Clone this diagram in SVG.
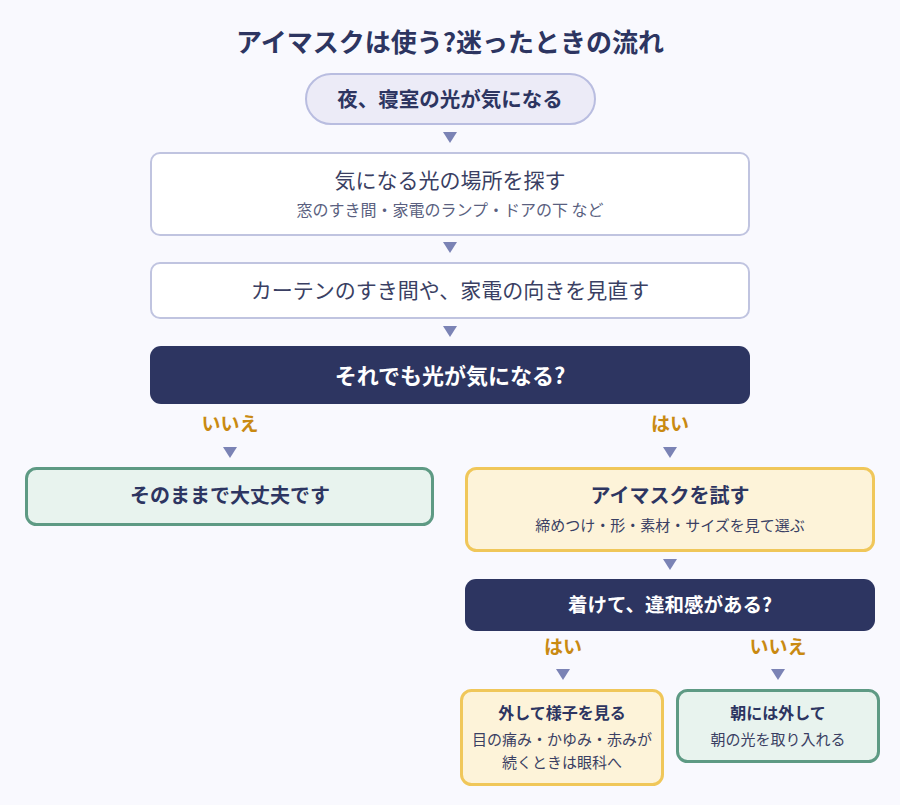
<svg xmlns="http://www.w3.org/2000/svg" width="900" height="805" viewBox="0 0 900 805">
<defs>
<style>
text{font-family:"Noto Sans CJK JP","Noto Sans",sans-serif;text-anchor:middle;dominant-baseline:central}
.t{font-size:26px;font-weight:700;fill:#2d3561}
.b{fill:#2d3561;font-weight:700}
.r{fill:#3a3f63}
.s{fill:#5a5f80}
.w{fill:#ffffff;font-weight:700}
.y{fill:#c98a12;font-weight:700;font-size:19px}
.plain{fill:#ffffff;stroke:#c0c4e0;stroke-width:2}
.dark{fill:#2d3561}
.green{fill:#e8f3ee;stroke:#5e9a84;stroke-width:3}
.yellow{fill:#fdf3d9;stroke:#f0c75a;stroke-width:3}
.arr{fill:#7b83b5}
</style>
</defs>
<rect width="900" height="805" fill="#f9f9fe"/>
<text class="t" x="450" y="40.5">アイマスクは使う?迷ったときの流れ</text>
<g id="start">
<rect x="306" y="74" width="289" height="50" rx="25" fill="#ecebf7" stroke="#b9bde0" stroke-width="2"/>
<text class="b" x="450" y="97.5" font-size="20.5">夜、寝室の光が気になる</text>
</g>
<g id="find">
<rect class="plain" x="151" y="153" width="598" height="82" rx="9"/>
<text class="r" x="450" y="178.5" font-size="21">気になる光の場所を探す</text>
<text class="s" x="450" y="209" font-size="16">窓のすき間・家電のランプ・ドアの下 など</text>
</g>
<g id="adjust">
<rect class="plain" x="151" y="263" width="598" height="55" rx="9"/>
<text class="r" x="450" y="288.5" font-size="21">カーテンのすき間や、家電の向きを見直す</text>
</g>
<g id="q1">
<rect class="dark" x="150" y="346" width="600" height="58" rx="11"/>
<text class="w" x="450" y="373.5" font-size="22">それでも光が気になる?</text>
</g>
<g id="ok">
<rect class="green" x="26.5" y="468.5" width="406" height="56" rx="10"/>
<text class="b" x="230" y="494.5" font-size="20">そのままで大丈夫です</text>
</g>
<g id="try">
<rect class="yellow" x="466.5" y="468.5" width="407" height="82" rx="10"/>
<text class="b" x="670" y="494.5" font-size="20">アイマスクを試す</text>
<text class="r" x="670" y="524.5" font-size="15">締めつけ・形・素材・サイズを見て選ぶ</text>
</g>
<g id="q2">
<rect class="dark" x="465" y="579" width="410" height="52" rx="11"/>
<text class="w" x="670" y="603.5" font-size="19.5">着けて、違和感がある?</text>
</g>
<g id="off">
<rect class="yellow" x="461.5" y="690.5" width="201" height="94" rx="10"/>
<text class="b" x="562" y="711.5" font-size="16">外して様子を見る</text>
<text class="r" x="562" y="738.5" font-size="15">目の痛み・かゆみ・赤みが</text>
<text class="r" x="562" y="761.5" font-size="15">続くときは眼科へ</text>
</g>
<g id="morning">
<rect class="green" x="677.5" y="690.5" width="201" height="71" rx="10"/>
<text class="b" x="778" y="711.5" font-size="16">朝には外して</text>
<text class="r" x="778" y="738.5" font-size="15">朝の光を取り入れる</text>
</g>
<g id="connectors">
<polygon class="arr" points="443,132 457,132 450,143"/>
<polygon class="arr" points="443,242 457,242 450,253"/>
<polygon class="arr" points="443,326 457,326 450,337"/>
<text class="y" x="230" y="422.5">いいえ</text>
<text class="y" x="670" y="422.5">はい</text>
<polygon class="arr" points="223,447 237,447 230,458"/>
<polygon class="arr" points="663,447 677,447 670,458"/>
<polygon class="arr" points="663,559 677,559 670,570"/>
<text class="y" x="563" y="645.5">はい</text>
<text class="y" x="778" y="645.5">いいえ</text>
<polygon class="arr" points="556,669 570,669 563,680"/>
<polygon class="arr" points="771,669 785,669 778,680"/>
</g>
</svg>
